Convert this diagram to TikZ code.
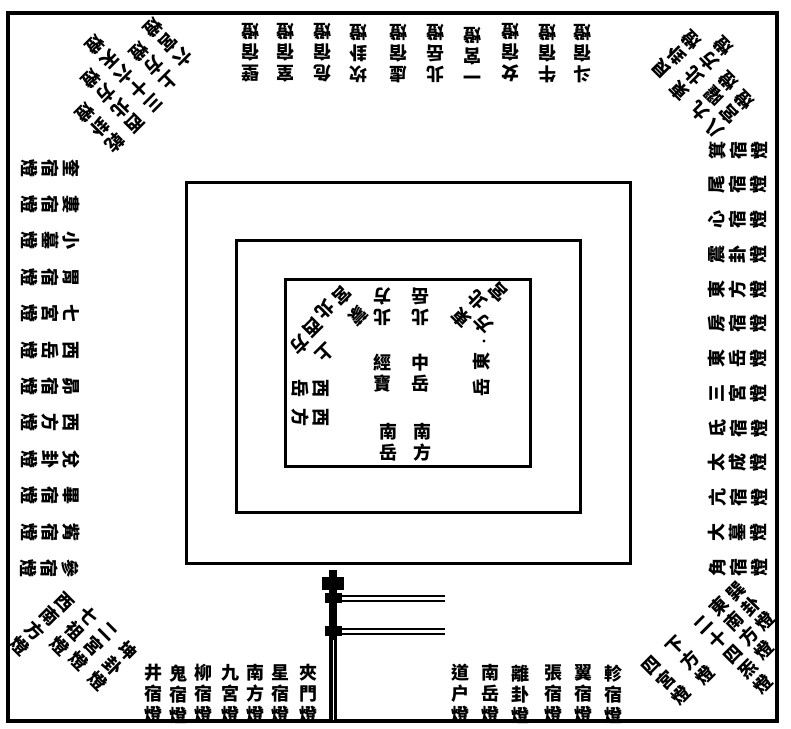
\documentclass[tikz,border=0pt]{standalone}
\usepackage{fontspec}
\newfontfamily\cjk{Noto Sans CJK TC}
\begin{document}
\begin{tikzpicture}[x=1pt,y=-1pt,
  lab/.style={font=\cjk\bfseries\fontsize{18}{21}\selectfont, align=center, inner sep=0pt},
  box/.style={line width=3pt},
  frm/.style={line width=4pt}]
\useasboundingbox (0,0) rectangle (791,728);
\fill[white] (0,0) rectangle (791,728);
\draw[frm] (8,13) rectangle (777,721);
\draw[box] (186,182) rectangle (630,563);
\draw[box] (236,240) rectangle (580,512);
\draw[box] (285,279) rectangle (530,466);
% top row
\foreach \x/\t [count=\i] in {250/壁\\宿\\燈,285/室\\宿\\燈,322/危\\宿\\燈,358/坎\\卦\\燈,398/虛\\宿\\燈,435/北\\岳\\燈,472/一\\宮\\燈,510/女\\宿\\燈,547/牛\\宿\\燈,582/斗\\宿\\燈}
  \node[lab,rotate=180] (t\i) at (\x,53) {\t};
% left column
\foreach \t [count=\i] in {奎\\宿\\燈,婁\\宿\\燈,小\\墓\\燈,胃\\宿\\燈,七\\宮\\燈,西\\岳\\燈,昴\\宿\\燈,西\\方\\燈,兌\\卦\\燈,畢\\宿\\燈,觜\\宿\\燈,參\\宿\\燈}
  \node[lab,rotate=-90] (l\i) at (50,{168+36.4*(\i-1)}) {\t};
% right column
\foreach \t [count=\i] in {箕\\宿\\燈,尾\\宿\\燈,心\\宿\\燈,震\\卦\\燈,東\\方\\燈,房\\宿\\燈,東\\岳\\燈,三\\宮\\燈,氐\\宿\\燈,太\\成\\燈,亢\\宿\\燈,大\\墓\\燈,角\\宿\\燈}
  \node[lab,rotate=90] (r\i) at (738,{150+34.75*(\i-1)}) {\t};
% bottom row
\foreach \x/\t [count=\i] in {153/井\\宿\\燈,178/鬼\\宿\\燈,203/柳\\宿\\燈,230/九\\宮\\燈,255/南\\方\\燈,280/星\\宿\\燈,308/夾\\門\\燈,460/道\\户\\燈,490/南\\岳\\燈,520/離\\卦\\燈,553/張\\宿\\燈,583/翼\\宿\\燈,613/軫\\宿\\燈}
  \node[lab] (b\i) at (\x,694) {\t};
% corners: top-left
\foreach \x/\y/\t [count=\i] in {182/57/六\\宮\\燈,168/80/上\\方\\燈,152/102/三\\十\\六\\天\\燈,134/122/西\\北\\方\\燈,114/142/乾\\卦\\燈}
  \node[lab,rotate=225,anchor=north] (tl\i) at (\x+7,\y+7) {\t};
% top-right
\foreach \x/\y/\t [count=\i] in {663/68/艮\\卦\\燈,680/90/東\\北\\方\\燈,700/110/九\\曜\\燈,716/128/八\\宮\\燈}
  \node[lab,rotate=135,anchor=north] (tr\i) at (\x-7,\y+7) {\t};
% bottom-left
\foreach \x/\y/\t [count=\i] in {63/603/西\\南\\方\\燈,88/617/七\\祖\\燈,106/634/二\\宮\\燈,127/652/坤\\卦\\燈}
  \node[lab,rotate=-45,anchor=north] (bl\i) at (\x+7,\y-7) {\t};
% bottom-right
\foreach \x/\y/\t [count=\i] in {737/593/巽\\卦\\燈,720/607/東\\南\\方\\燈,706/627/二\\十\\四\\炁\\燈,677/647/下\\方\\燈,653/667/四\\宮\\燈}
  \node[lab,rotate=45,anchor=north] (br\i) at (\x-7,\y-7) {\t};
% inner texts
\node[lab,rotate=180] (i1) at (382,307) {北\\方};
\node[lab,rotate=180] (i2) at (420,307) {北\\岳};
\node[lab] (i3) at (382,373) {經\\寶};
\node[lab] (i4) at (420,373) {中\\岳};
\node[lab] (i5) at (388,442) {南\\岳};
\node[lab] (i6) at (422,442) {南\\方};
\node[lab,rotate=-90] (i7) at (310,388) {西\\岳};
\node[lab,rotate=-90] (i8) at (310,417) {西\\方};
% inner north-west diagonal characters
\foreach \x/\y/\c [count=\i] in {342/296/宮,358/316/蒙,325/310/北,313/327/西,300/345/方,325/353/上}
  \node[lab,rotate=225] (nw\i) at (\x,\y) {\c};
% inner north-east diagonal characters and east column
\foreach \x/\y/\c [count=\i] in {498/292/宮,477/300/北,461/318/東,483/324/方}
  \node[lab,rotate=135] (ne\i) at (\x,\y) {\c};
\node[circle,fill,inner sep=1.2pt] (dot) at (484,341) {};
\node[lab,rotate=90] (e1) at (482,361) {東};
\node[lab,rotate=90] (e2) at (482,387) {岳};
% pole
\coordinate (ptop) at (333,570);
\coordinate (pbot) at (333,722);
\draw[line width=8pt] (ptop) -- (pbot);
\fill (322,577) rectangle (344,590);
\fill (325,593) rectangle (342,603);
\fill (325,626) rectangle (342,636);
\coordinate (ua) at (333,596); \coordinate (ub) at (445,596);
\coordinate (uc) at (333,601); \coordinate (ud) at (445,601);
\coordinate (la) at (333,629); \coordinate (lb) at (445,629);
\coordinate (lc) at (333,634); \coordinate (ld) at (445,634);
\draw[line width=2pt] (ua) -- (ub);
\draw[line width=1.2pt] (uc) -- (ud);
\draw[line width=2pt] (la) -- (lb);
\draw[line width=1.2pt] (lc) -- (ld);
\draw[white,line width=1pt] (333,640) -- (333,720);
\end{tikzpicture}
\end{document}
